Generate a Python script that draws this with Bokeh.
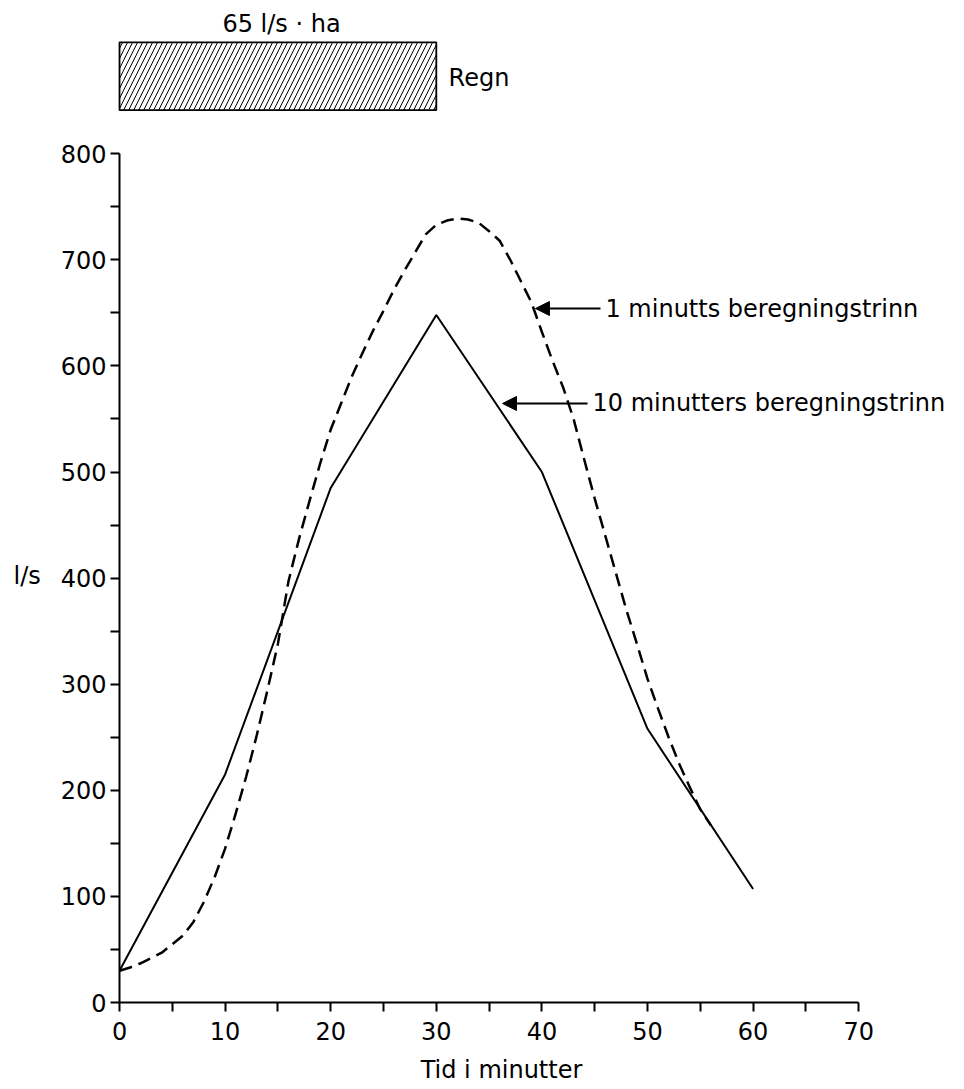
from bokeh.plotting import figure
from bokeh.models import Range1d, FixedTicker, Arrow, NormalHead
from bokeh.embed import file_html
from bokeh.resources import INLINE
from bokeh.core.properties import value

# ---------------- data ----------------
minutes_10 = [0, 10, 20, 30, 40, 50, 60]
flow_10 = [30, 215, 485, 648, 500, 258, 107]

minutes_1 = list(range(0, 57))
flow_1 = [30, 33, 37, 42, 47, 55, 63, 76, 95, 118,
          145, 178, 213, 252, 294, 338, 397, 437, 473, 508,
          540, 565, 590, 612, 633, 652, 672, 690, 707, 724,
          733, 737, 739, 738, 735, 727, 718, 700, 680, 660,
          632, 605, 580, 550, 512, 475, 440, 405, 370, 338,
          305, 277, 250, 225, 203, 182, 167]

x_ticks = [0, 10, 20, 30, 40, 50, 60, 70]
x_minor = [5, 15, 25, 35, 45, 55, 65]
y_ticks = [0, 100, 200, 300, 400, 500, 600, 700, 800]
y_minor = [50, 150, 250, 350, 450, 550, 650, 750]

rain_start = [0]
rain_end = [30]
rain_text = "65 l/s · ha"
rain_name = "Regn"
y_label = "l/s"
x_label = "Tid i minutter"
label_1min = "1 minutts beregningstrinn"
label_10min = "10 minutters beregningstrinn"

# ---------------- layout ----------------
FONT = "DejaVu Sans"
FS = "24px"
W, H = 960, 1085

p = figure(width=W, height=H, frame_width=W, frame_height=H,
           x_range=Range1d(-11.27, 79.64), y_range=Range1d(-78.2, 944.4),
           output_backend="svg", toolbar_location=None,
           min_border_left=0, min_border_right=0,
           min_border_top=0, min_border_bottom=0)
p.outline_line_color = None
p.grid.grid_line_color = None
p.background_fill_color = "white"
p.border_fill_color = "white"

for ax in (p.xaxis, p.yaxis):
    ax.fixed_location = 0
    ax.axis_line_width = 2
    ax.axis_line_color = "black"
    ax.major_tick_in = 0
    ax.minor_tick_in = 0
    ax.major_tick_out = 9
    ax.minor_tick_out = 9
    ax.major_tick_line_width = 2
    ax.minor_tick_line_width = 2
    ax.major_tick_line_color = "black"
    ax.minor_tick_line_color = "black"
    ax.major_label_text_font = FONT
    ax.major_label_text_font_size = FS
    ax.major_label_text_color = "black"

p.xaxis.ticker = FixedTicker(ticks=x_ticks, minor_ticks=x_minor)
p.yaxis.ticker = FixedTicker(ticks=y_ticks, minor_ticks=y_minor)
p.xaxis.bounds = (x_ticks[0], x_ticks[-1])
p.yaxis.bounds = (y_ticks[0], y_ticks[-1])
p.xaxis.major_label_standoff = 10
p.yaxis.major_label_standoff = 4

txt = dict(text_font=value(FONT), text_font_size=FS, text_color="black",
           text_baseline="middle")

# curves
p.line(minutes_1, flow_1, line_color="black", line_width=2.5, line_dash="13 7")
p.line(minutes_10, flow_10, line_color="black", line_width=2)

# rain block
p.quad(left=rain_start, right=rain_end, bottom=[841], top=[905],
       fill_color="white", line_color="black", line_width=1.8,
       hatch_pattern="/", hatch_color="black", hatch_scale=10, hatch_weight=1)
p.text(x=[15.34], y=[922.7], text=[rain_text], text_align="center", **txt)
p.text(x=[31.16], y=[870.9], text=[rain_name], text_align="left", **txt)

# axis titles
p.text(x=[-10.04], y=[402.4], text=[y_label], text_align="left", **txt)
p.text(x=[36.17], y=[-63.5], text=[x_label], text_align="center", **txt)

# annotations with arrows
head = dict(size=14, fill_color="black", line_color="black")
p.add_layout(Arrow(end=NormalHead(**head), x_start=45.55, y_start=654.1,
                   x_end=39.39, y_end=654.1, line_width=2, line_color="black"))
p.text(x=[46.02], y=[654.1], text=[label_1min], text_align="left", **txt)
p.add_layout(Arrow(end=NormalHead(**head), x_start=44.32, y_start=564.6,
                   x_end=36.27, y_end=564.6, line_width=2, line_color="black"))
p.text(x=[44.79], y=[564.6], text=[label_10min], text_align="left", **txt)

open("out.html", "w").write(file_html(p, INLINE))
